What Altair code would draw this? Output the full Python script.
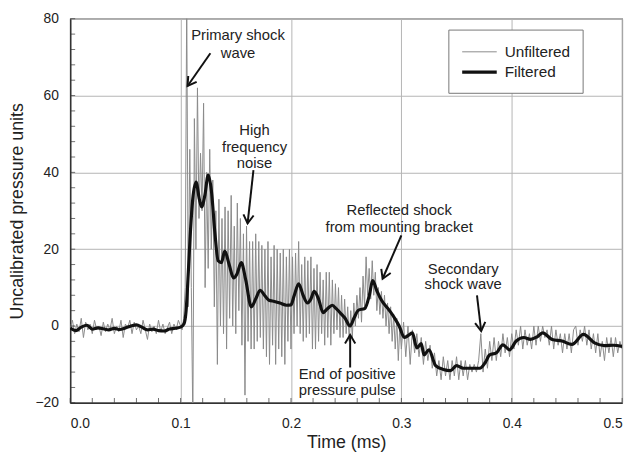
import math
import altair as alt
import numpy as np
import pandas as pd

# ---------------- data ----------------
# Unfiltered signal (thin gray), three sampled stretches
unf_pre = [-0.5, 1.5, -2, 0.5, -1.5, 2, -3, 1, -1, 0.5,
           -2, 1.5, -1, 0, -2.5, 1, -1.5, 0.5, -1, 2,
           -2, 0, -1.5, 1.5, -3, 0.5, -0.5, 1.5, -2, 1,
           -1, 0, -2, 1.5, -1, -3.5, 0.5, -1.5, 0, -2,
           1.5, -1.5, 0.5, -2, -0.5, 1, -2, 0.5, -1, 1.5]
unf_shock = [0, -1, 2, 10, 85, 5, 46, 10, -25, 54,
             20, 62, 28, 45, 30, 58, 10, 40, 15, 46,
             20, 38, 5, 30, -10, 33, 0, 28, -2, 31,
             -6, 30, 2, 34, 0, 26, -2, 32, 4, 28,
             -5, 24, -18, 26, -4, 22, -6, 22, -6, 24,
             -4, 22, -3, 21, -6, 20, -8, 22, -10, 18,
             -5, 21, -10, 20, -6, 19, -8, 20, -10, 18,
             -4, 20, -6, 18, -2, 19, 0, 22, -2, 16,
             -4, 18, -3, 17, -2, 18, -6, 15, -6, 16,
             -4, 14, -2, 12, -5, 14, -3, 14, -5, 12,
             -2, 11, -1, 10, -3, 8, -3, 7, -2, 5,
             -4, 4, -3, 6, 0, 8, 2, 10, 1, 13,
             5, 18, 8, 15, 7, 17, 8, 14, 4, 10,
             3, 9, 2, 8, 0, 6, -2, 5, -4, 3,
             -6, 2, -9, 0, -6]
unf_late = [1, -8, 0, -10, -1, -7, -2, -8, -3, -10,
            -4, -9, -5, -11, -7, -13, -9, -14, -8, -13,
            -9, -14, -9, -13, -8, -14, -9, -13, -9, -14,
            -10, -12, -10, -12, -9, -2, -12, -6, -11, -4,
            -9, -3, -9, -4, -8, -2, -7, -3, -8, -2,
            -6, -1, -5, 0, -6, -1, -5, -2, -6, 0,
            -5, 0, -4, 0, -3, -1, -5, 0, -6, -1,
            -5, -2, -7, -2, -6, -2, -7, -1, 0, -5,
            -1, -4, 0, -5, -1, -6, -2, -7, -2, -8,
            -4, -9, -3, -7, -3, -8, -3, -7, -4, -6]
unf_t = np.concatenate([
    np.linspace(0.0, 0.098, len(unf_pre)),
    np.linspace(0.1, 0.3, len(unf_shock)),
    np.linspace(0.302, 0.5, len(unf_late)),
])
unf_v = unf_pre + unf_shock + unf_late

# Filtered signal (thick black)
filt_t = [0, 0.005, 0.01, 0.015, 0.02, 0.025, 0.03, 0.035, 0.04, 0.045,
          0.05, 0.055, 0.06, 0.065, 0.07, 0.075, 0.08, 0.085, 0.09, 0.095,
          0.1, 0.103, 0.105, 0.107, 0.109, 0.111, 0.114, 0.117, 0.119, 0.122,
          0.125, 0.128, 0.131, 0.134, 0.137, 0.140, 0.144, 0.148, 0.151, 0.155,
          0.159, 0.164, 0.168, 0.172, 0.176, 0.180, 0.185, 0.190, 0.196, 0.200,
          0.203, 0.207, 0.211, 0.215, 0.218, 0.221, 0.225, 0.229, 0.233, 0.2375,
          0.241, 0.245, 0.249, 0.2536, 0.257, 0.261, 0.267, 0.271, 0.274, 0.278,
          0.282, 0.289, 0.294, 0.298, 0.3027, 0.306, 0.31, 0.314, 0.318, 0.3205,
          0.325, 0.331, 0.338, 0.3446, 0.35, 0.356, 0.365, 0.371, 0.376, 0.380,
          0.386, 0.392, 0.398, 0.404, 0.411, 0.417, 0.423, 0.428, 0.4366, 0.4455,
          0.4545, 0.465, 0.475, 0.484, 0.492, 0.5]
filt_v = [-0.5, -1.2, -0.3, 0.2, -0.8, -0.5, -0.7, -1, -0.6, -0.9,
          -0.5, 0, 0.3, -0.3, -1, -0.8, -1.2, -1.3, -0.8, -0.6,
          -0.3, 0.5, 4, 14, 25, 33, 37.5, 33, 31, 34,
          39.3, 35, 24.5, 17, 16.5, 19.5, 16, 12.5, 13.5, 16.5,
          12, 5, 7, 9.3, 8, 6.7, 6.4, 6, 5.4, 5.5,
          8, 11, 8, 6, 7, 9, 7, 3.5, 4.5, 5.4,
          4.5, 3.3, 2, 0, 2, 4.1, 4.6, 8, 11.8, 9,
          6.7, 4.1, 2, 0, -3, -2.5, -1.8, -5.7, -4.6, -7.5,
          -6.2, -10.3, -11.3, -11.6, -10.3, -11, -11, -11, -9.5, -7.5,
          -7, -4.9, -6.2, -3.9, -3, -3.5, -2.8, -1.8, -3.5, -3.9,
          -4.8, -2.2, -4.4, -5.1, -5, -5.3]

series_names = ["Unfiltered", "Filtered"]

x_labels = [0.0, 0.1, 0.2, 0.3, 0.4, 0.5]
y_labels = [-20, 0, 20, 40, 60, 80]
x_minor = [0.02, 0.04, 0.06, 0.08, 0.12, 0.14, 0.16, 0.18, 0.22, 0.24, 0.26, 0.28,
           0.32, 0.34, 0.36, 0.38, 0.42, 0.44, 0.46, 0.48]
y_minor = [-16, -12, -8, -4, 4, 8, 12, 16, 24, 28, 32, 36, 44, 48, 52, 56, 64, 68, 72, 76]

ann_text = ["Primary shock", "wave", "High", "frequency", "noise",
            "Reflected shock", "from mounting bracket", "Secondary", "shock wave",
            "End of positive", "pressure pulse"]
ann_t = [0.152, 0.152, 0.167, 0.167, 0.167, 0.298, 0.298, 0.356, 0.356, 0.251, 0.251]
ann_v = [75.8, 71.0, 50.9, 46.5, 42.4, 30.3, 25.7, 14.9, 10.8, -12.6, -16.7]

arrow_t1 = [0.127, 0.166, 0.300, 0.3685, 0.2536]
arrow_v1 = [71.0, 40.6, 23.6, 8.0, -10.8]
arrow_t2 = [0.1063, 0.1607, 0.283, 0.3723, 0.2536]
arrow_v2 = [62.5, 26.7, 12.3, -1.3, -2.3]

# ---------------- chart ----------------
W, H = 559, 389
XD, YD = [0, 0.5], [-20, 80]
FONT = "Liberation Sans"

df_unf = pd.DataFrame({"t": unf_t, "v": unf_v, "series": "Unfiltered"})
df_fil = pd.DataFrame({"t": filt_t, "v": filt_v, "series": "Filtered"})

xs = alt.Scale(domain=XD, nice=False, zero=False)
ys = alt.Scale(domain=YD, nice=False, zero=False)
AX = alt.Axis(values=x_labels, format=".1f", title="Time (ms)", ticks=False,
              labelPadding=14, titlePadding=3, grid=True)
AY = alt.Axis(values=y_labels, format="d", title="Uncalibrated pressure units",
              ticks=False, labelPadding=12, titlePadding=9, grid=True)

legend = alt.Legend(title=None, orient="none", legendX=383, legendY=11,
                    symbolType="M -1.75 0 L 1.75 0", symbolSize=400, labelFontSize=15.5,
                    labelFont=FONT, labelColor="#222", padding=12,
                    strokeColor="#777", fillColor="white", rowPadding=-3,
                    symbolOffset=7.5, labelOffset=13.5, cornerRadius=0)
color = alt.Color("series:N", scale=alt.Scale(domain=series_names, range=["#8a8a8a", "#111111"]),
                  legend=legend)
sw = alt.StrokeWidth("series:N", scale=alt.Scale(domain=series_names, range=[1, 3.2]),
                     legend=legend)


def X(f):
    return alt.X(f, scale=xs, axis=AX)


def Y(f):
    return alt.Y(f, scale=ys, axis=AY)


unf = alt.Chart(df_unf).mark_line(clip=True).encode(
    x=X("t:Q"), y=Y("v:Q"), color=color, strokeWidth=sw)
fil = alt.Chart(df_fil).mark_line(clip=True, interpolate="monotone").encode(
    x=X("t:Q"), y=Y("v:Q"), color=color, strokeWidth=sw)

xt = alt.Chart(pd.DataFrame({"t": x_minor + x_labels})).mark_tick(
    orient="vertical", size=5, thickness=1, color="#333").encode(
    x=X("t:Q"), y=alt.value(H - 2.5))
yt = alt.Chart(pd.DataFrame({"v": y_minor + y_labels})).mark_tick(
    orient="horizontal", size=5, thickness=1, color="#333").encode(
    y=Y("v:Q"), x=alt.value(2.5))

txt = alt.Chart(pd.DataFrame({"t": ann_t, "v": ann_v, "label": ann_text})).mark_text(
    font=FONT, fontSize=15, color="#222", align="center", baseline="middle").encode(
    x=X("t:Q"), y=Y("v:Q"), text="label:N")

angles = []
for a, b, c, d in zip(arrow_t1, arrow_v1, arrow_t2, arrow_v2):
    dx = (c - a) * W / (XD[1] - XD[0])
    dy = -(d - b) * H / (YD[1] - YD[0])
    angles.append(math.degrees(math.atan2(dy, dx)) % 360)
df_arr = pd.DataFrame({"t": arrow_t1, "v": arrow_v1, "t2": arrow_t2, "v2": arrow_v2,
                       "ang": angles})
shaft = alt.Chart(df_arr).mark_rule(color="#111", strokeWidth=2).encode(
    x=X("t:Q"), y=Y("v:Q"), x2="t2:Q", y2="v2:Q")
head = alt.Chart(df_arr).mark_point(
    shape="M -1 -0.6 L 0 0 L -1 0.6", filled=False, color="#111", strokeWidth=2,
    size=300, opacity=1).encode(
    x=X("t2:Q"), y=Y("v2:Q"), angle=alt.Angle("ang:Q", scale=None))

chart = alt.layer(unf, fil, xt, yt, shaft, head, txt).properties(
    width=W, height=H,
    autosize=alt.AutoSizeParams(type="none"),
    padding={"left": 63, "top": 8, "right": 11, "bottom": 52},
    background="white",
).configure_axis(
    labelFont=FONT, labelFontSize=14, labelColor="#222",
    titleFont=FONT, titleFontSize=18, titleFontWeight="normal", titleColor="#222",
    gridColor="#b4b4b4", gridWidth=1, domainColor="#333", domainWidth=1.5,
).configure_view(stroke="#555", strokeWidth=1.2)

chart.save("out.html", embed_options={"renderer": "svg", "actions": False})
